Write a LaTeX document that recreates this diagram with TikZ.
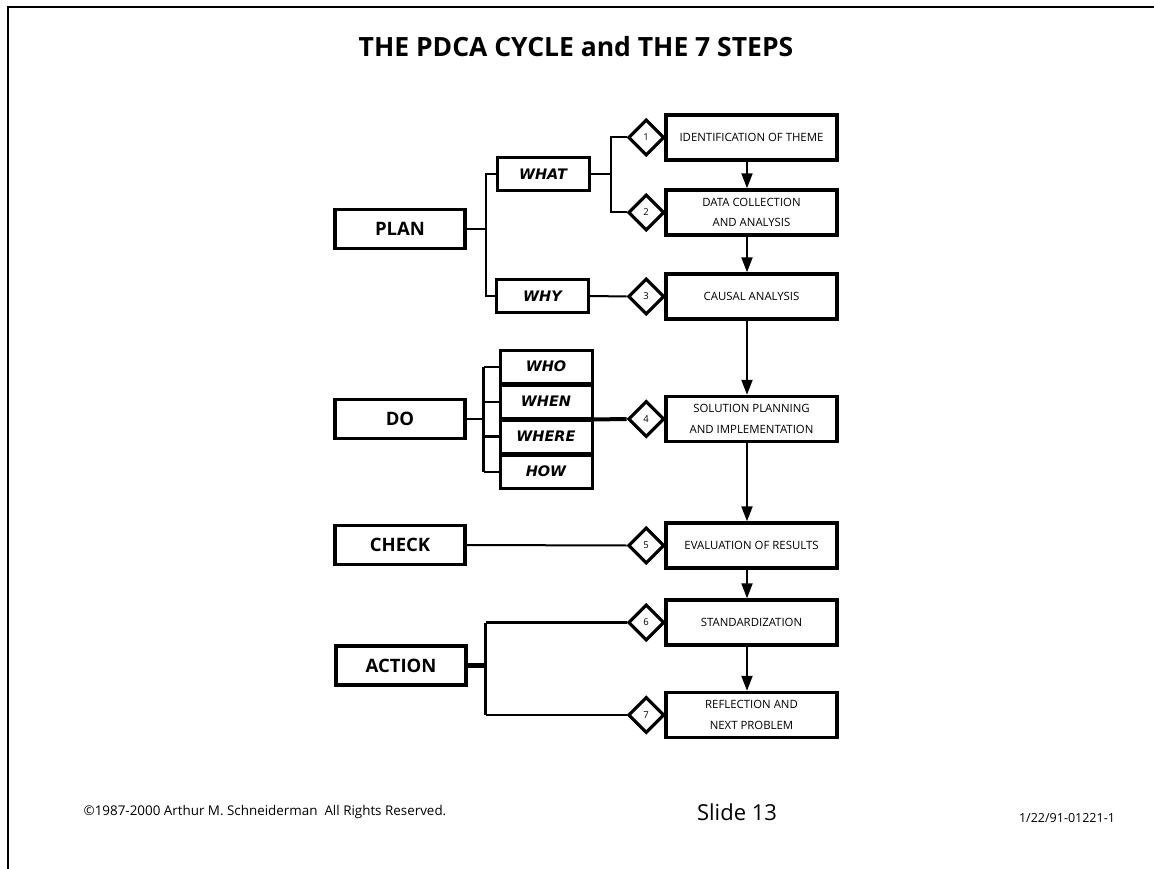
\documentclass[tikz,border=0pt]{standalone}
\usepackage{fontspec}
\setmainfont{Open Sans}
\newfontfamily\askfont{DejaVu Sans}
\usetikzlibrary{shapes.geometric,arrows.meta}
\tikzset{
  phase/.style={draw,line width=3.2pt,minimum width=130,minimum height=39,inner sep=0pt,
    font=\bfseries\fontsize{18.5}{20}\selectfont},
  ask/.style={draw,line width=3pt,minimum width=92,minimum height=33,inner sep=0pt,
    font=\askfont\bfseries\itshape\fontsize{14.5}{16}\selectfont},
  stepbox/.style={draw,line width=3.4pt,minimum width=171,minimum height=45,inner sep=0pt,
    align=center,font=\fontsize{11.4}{20.5}\selectfont},
  diam/.style={draw,diamond,aspect=1,line width=3.2pt,minimum width=36,minimum height=36,
    inner sep=0pt,font=\fontsize{9.5}{10}\selectfont},
  flow/.style={line width=2pt,-{Triangle[length=15pt,width=11pt]}},
  link/.style={line width=2pt}
}
\begin{document}
\begin{tikzpicture}[x=1pt,y=-1pt,semithick]
\useasboundingbox (0,0) rectangle (1154,869);
\draw[line width=2.6pt] (8,869)--(8,7)--(1154,7);
\node[font=\bfseries\fontsize{26.5}{28}\selectfont] (title) at (576,47) {THE PDCA CYCLE and THE 7 STEPS};
% the seven steps
\node[stepbox] (s1) at (751.5,137.5) {IDENTIFICATION OF THEME};
\node[stepbox] (s2) at (751.5,212.5) {DATA COLLECTION\\AND ANALYSIS};
\node[stepbox] (s3) at (751.5,296.5) {CAUSAL ANALYSIS};
\node[stepbox] (s4) at (751.5,419) {SOLUTION PLANNING\\AND IMPLEMENTATION};
\node[stepbox] (s5) at (751.5,545.5) {EVALUATION OF RESULTS};
\node[stepbox] (s6) at (751.5,622.5) {STANDARDIZATION};
\node[stepbox] (s7) at (751.5,715) {REFLECTION AND\\NEXT PROBLEM};
\foreach \i in {1,...,7}{\node[diam,anchor=east] (d\i) at ([xshift=1.5]s\i.west) {\i};}
\foreach \a/\b in {s1/s2,s2/s3,s3/s4,s4/s5,s5/s6,s6/s7}
  \draw[flow] ([xshift=-4.5]\a.south) -- ([xshift=-4.5]\b.north);
% PDCA
\node[phase] (plan) at (400,229) {PLAN};
\node[phase] (do) at (400,419) {DO};
\node[phase] (check) at (400,545) {CHECK};
\node[phase] (action) at (401,665.5) {ACTION};
\node[ask] (what) at (543,174) {WHAT};
\node[ask] (why) at (542.5,296) {WHY};
\node[ask] (who) at (546,366.5) {WHO};
\node[ask] (when) at (546,401.5) {WHEN};
\node[ask] (where) at (546,436.5) {WHERE};
\node[ask] (how) at (546,471.5) {HOW};
\draw[line width=4pt] (where.south west)--(where.south east);
% connectors
\draw[link] (plan.east) -- ++(19,0) |- (what.west);
\draw[link] (plan.east) -- ++(19,0) |- (why.west);
\draw[link] (what.east) -- ++(20,0) |- (d1.west);
\draw[link] (what.east) -- ++(20,0) |- (d2.west);
\draw[link] (why.east) -- (d3.west);
\draw[link] (do.east) -- ++(17,0) coordinate (dob);
\draw[line width=3.4pt] (dob |- who.west) -- (dob |- how.west);
\foreach \q in {who,when,how}{\draw[link] (dob |- \q.west) -- (\q.west);}
\draw[line width=3.6pt] (dob |- where.west) -- (where.west);
\draw[line width=4pt] (when.south east) -- (d4.west);
\draw[link] (check.east) -- (d5.west);
\draw[line width=4.4pt] (action.east) -- ++(18,0) coordinate (acb);
\draw[line width=2.8pt] (acb |- d6.west) -- (d6.west);
\draw[line width=2.8pt] (acb |- d7.west) -- (d7.west);
\draw[line width=2.8pt] (acb |- d6.west) -- (acb |- d7.west);
% footer
\node[anchor=west,font=\fontsize{13.4}{15}\selectfont] (copy) at (80,812) {©1987-2000 Arthur M. Schneiderman\ \ All Rights Reserved.};
\node[font=\fontsize{22}{24}\selectfont] (slide) at (737,812) {Slide 13};
\node[font=\fontsize{12.5}{14}\selectfont] (code) at (1067,818) {1/22/91-01221-1};
\end{tikzpicture}
\end{document}
